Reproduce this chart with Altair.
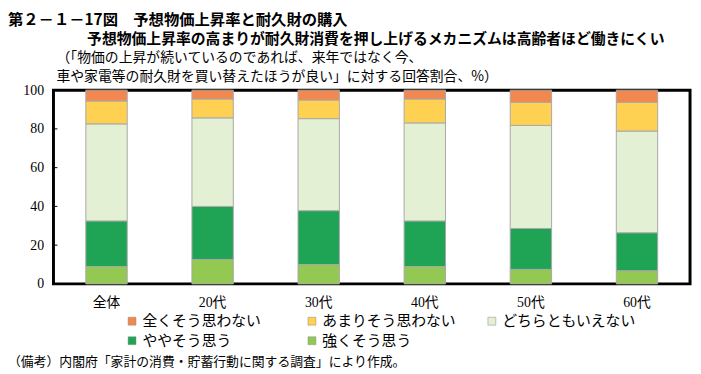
import altair as alt
import pandas as pd

groups = ["全体", "20代", "30代", "40代", "50代", "60代"]
answers = ["全くそう思わない", "あまりそう思わない", "どちらともいえない", "ややそう思う", "強くそう思う"]
stack_rank = {"強くそう思う": 0, "ややそう思う": 1, "どちらともいえない": 2, "あまりそう思わない": 3, "全くそう思わない": 4}

strongly = [9.0, 12.6, 10.0, 9.0, 7.5, 6.8]
somewhat = [23.5, 27.4, 27.8, 23.5, 21.1, 19.6]
neutral = [50.1, 45.7, 47.5, 50.6, 53.2, 52.5]
not_much = [11.8, 9.7, 9.6, 12.3, 11.9, 14.8]
not_at_all = [5.6, 4.6, 5.1, 4.6, 6.3, 6.3]

colors = ["#F2884F", "#FFD152", "#E4F0D4", "#1FA355", "#93C953"]
y_ticks = [0, 20, 40, 60, 80, 100]

title_main = "第２－１－17図　予想物価上昇率と耐久財の購入"
title_sub = "予想物価上昇率の高まりが耐久財消費を押し上げるメカニズムは高齢者ほど働きにくい"
unit_line1 = "（「物価の上昇が続いているのであれば、来年ではなく今、"
unit_line2 = "車や家電等の耐久財を買い替えたほうが良い」に対する回答割合、%）"
note = "（備考）内閣府「家計の消費・貯蓄行動に関する調査」により作成。"

series = {
    "強くそう思う": strongly,
    "ややそう思う": somewhat,
    "どちらともいえない": neutral,
    "あまりそう思わない": not_much,
    "全くそう思わない": not_at_all,
}
rows = []
for ans, vals in series.items():
    for g, v in zip(groups, vals):
        rows.append({"group": g, "answer": ans, "value": v, "rank": stack_rank[ans]})
df = pd.DataFrame(rows)

SERIF = "Liberation Serif, Noto Sans CJK JP"
SANS = "Noto Sans CJK JP"

y_axis = alt.Axis(title=None, values=y_ticks, ticks=False, domain=False, grid=False,
                  labelOverlap=False, labelFont=SERIF, labelFontSize=14,
                  labelColor="#000", labelPadding=10)
y_scale = alt.Scale(domain=[0, 100], nice=False)

bars = alt.Chart(df).mark_bar(stroke="#A8A8A8", strokeWidth=1).encode(
    x=alt.X("group:N", sort=groups,
            scale=alt.Scale(paddingInner=0.61, paddingOuter=0.305),
            axis=alt.Axis(title=None, labelAngle=0, ticks=False, domain=False,
                          labelFont=SERIF, labelFontSize=14, labelColor="#000",
                          labelPadding=12)),
    y=alt.Y("value:Q", stack="zero", scale=y_scale, axis=y_axis),
    color=alt.Color("answer:N",
                    scale=alt.Scale(domain=answers, range=colors),
                    legend=alt.Legend(title=None, orient="none", legendX=72, legendY=226,
                                      columns=3, direction="horizontal", gridAlign="all",
                                      columnPadding=28, rowPadding=4,
                                      symbolType="square", symbolSize=64,
                                      symbolStrokeColor="#888", symbolStrokeWidth=0.5,
                                      labelFont=SANS, labelFontSize=15, labelColor="#000",
                                      labelOffset=3)),
    order=alt.Order("rank:Q", sort="ascending"),
)

ticks = alt.Chart(pd.DataFrame({"t": y_ticks})).mark_rule(color="#000", strokeWidth=1).encode(
    y=alt.Y("t:Q", scale=y_scale, axis=y_axis), x=alt.value(0), x2=alt.value(4)
)

def label(text, x, y, size, font, weight="normal"):
    return alt.Chart(pd.DataFrame({"s": [text]})).mark_text(
        align="left", baseline="middle", fontSize=size, font=font, fontWeight=weight, color="#000"
    ).encode(text="s:N", x=alt.value(x), y=alt.value(y))

texts = [
    label(title_main, -46, -71, 15.5, SANS, "bold"),
    label(title_sub, 34, -52, 15, SANS, "bold"),
    label(unit_line1, 3, -32, 14, SANS),
    label(unit_line2, 3, -13, 14, SANS),
    label(note, -46, 275, 13, SANS),
]

chart = alt.layer(bars, ticks, *texts).properties(
    width=644, height=196,
    padding={"left": 46, "top": 81, "right": 3, "bottom": 85},
    autosize="none",
    background="white",
).configure_view(stroke="#000", strokeWidth=3)

chart.save("out.html", embed_options={"renderer": "svg", "actions": False})
